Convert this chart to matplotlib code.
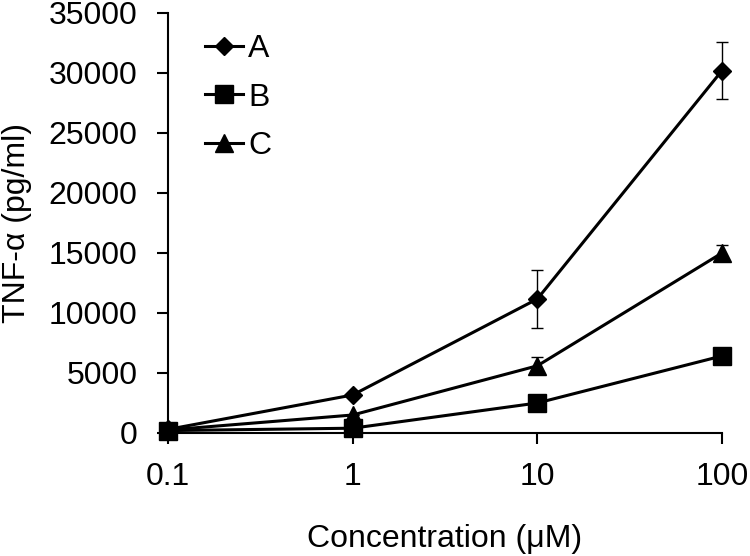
import matplotlib
matplotlib.use("Agg")
import matplotlib.pyplot as plt
import numpy as np
from matplotlib.container import ErrorbarContainer

plt.rcParams['font.family'] = ['Liberation Sans', 'DejaVu Sans']

concentrations = ["0.1", "1", "10", "100"]
series_a = [300, 3170, 11170, 30200]
series_a_err = [0, 0, 2400, 2400]
series_b = [200, 400, 2500, 6420]
series_b_err = [0, 0, 0, 0]
series_c = [250, 1500, 5600, 15000]
series_c_err = [0, 0, 700, 700]
labels = ["A", "B", "C"]
y_ticks = [0, 5000, 10000, 15000, 20000, 25000, 30000, 35000]

fig = plt.figure(figsize=(7.5, 5.56), dpi=100)
ax = fig.add_axes([168/750, 1-433/556, (722-168)/750, (433-13)/556])

x = np.arange(len(concentrations))
specs = [(series_a, series_a_err, 'D', 9.5), (series_b, series_b_err, 's', 12.5), (series_c, series_c_err, '^', 13)]
for (vals, errs, mk, ms), lab in zip(specs, labels):
    ax.errorbar(x, vals, yerr=errs,
                fmt='-', color='black', lw=2.2, marker=mk, ms=ms, mfc='black', mec='black',
                ecolor='black', elinewidth=1, capsize=4, capthick=1, label=lab, clip_on=False, zorder=3)

ax.set_xlim(0, 3)
ax.set_ylim(0, 35000)
ax.set_xticks(x)
ax.set_xticklabels(concentrations)
ax.set_yticks(y_ticks)
ax.set_yticklabels([str(v) for v in y_ticks])
for s in ['top', 'right']:
    ax.spines[s].set_visible(False)
for s in ['left', 'bottom']:
    ax.spines[s].set_linewidth(1.5)
ax.tick_params(axis='both', direction='out', length=8, width=1.5, labelsize=23, color='black')
ax.tick_params(axis='y', pad=14)
ax.tick_params(axis='x', pad=13)

ax.set_xlabel("Concentration (μM)", fontsize=23, labelpad=23)
ax.set_ylabel("TNF-α (pg/ml)", fontsize=23, labelpad=12)

handles, lbls = ax.get_legend_handles_labels()
handles = [h[0] if isinstance(h, ErrorbarContainer) else h for h in handles]
ax.legend(handles, lbls, loc='upper left', bbox_to_anchor=((205-168)/554, 1-(34-13)/420),
          frameon=False, fontsize=23, handlelength=1.2, handletextpad=0.15,
          labelspacing=0.58, borderpad=0, borderaxespad=0, numpoints=1)

fig.savefig("out.png", dpi=100)
